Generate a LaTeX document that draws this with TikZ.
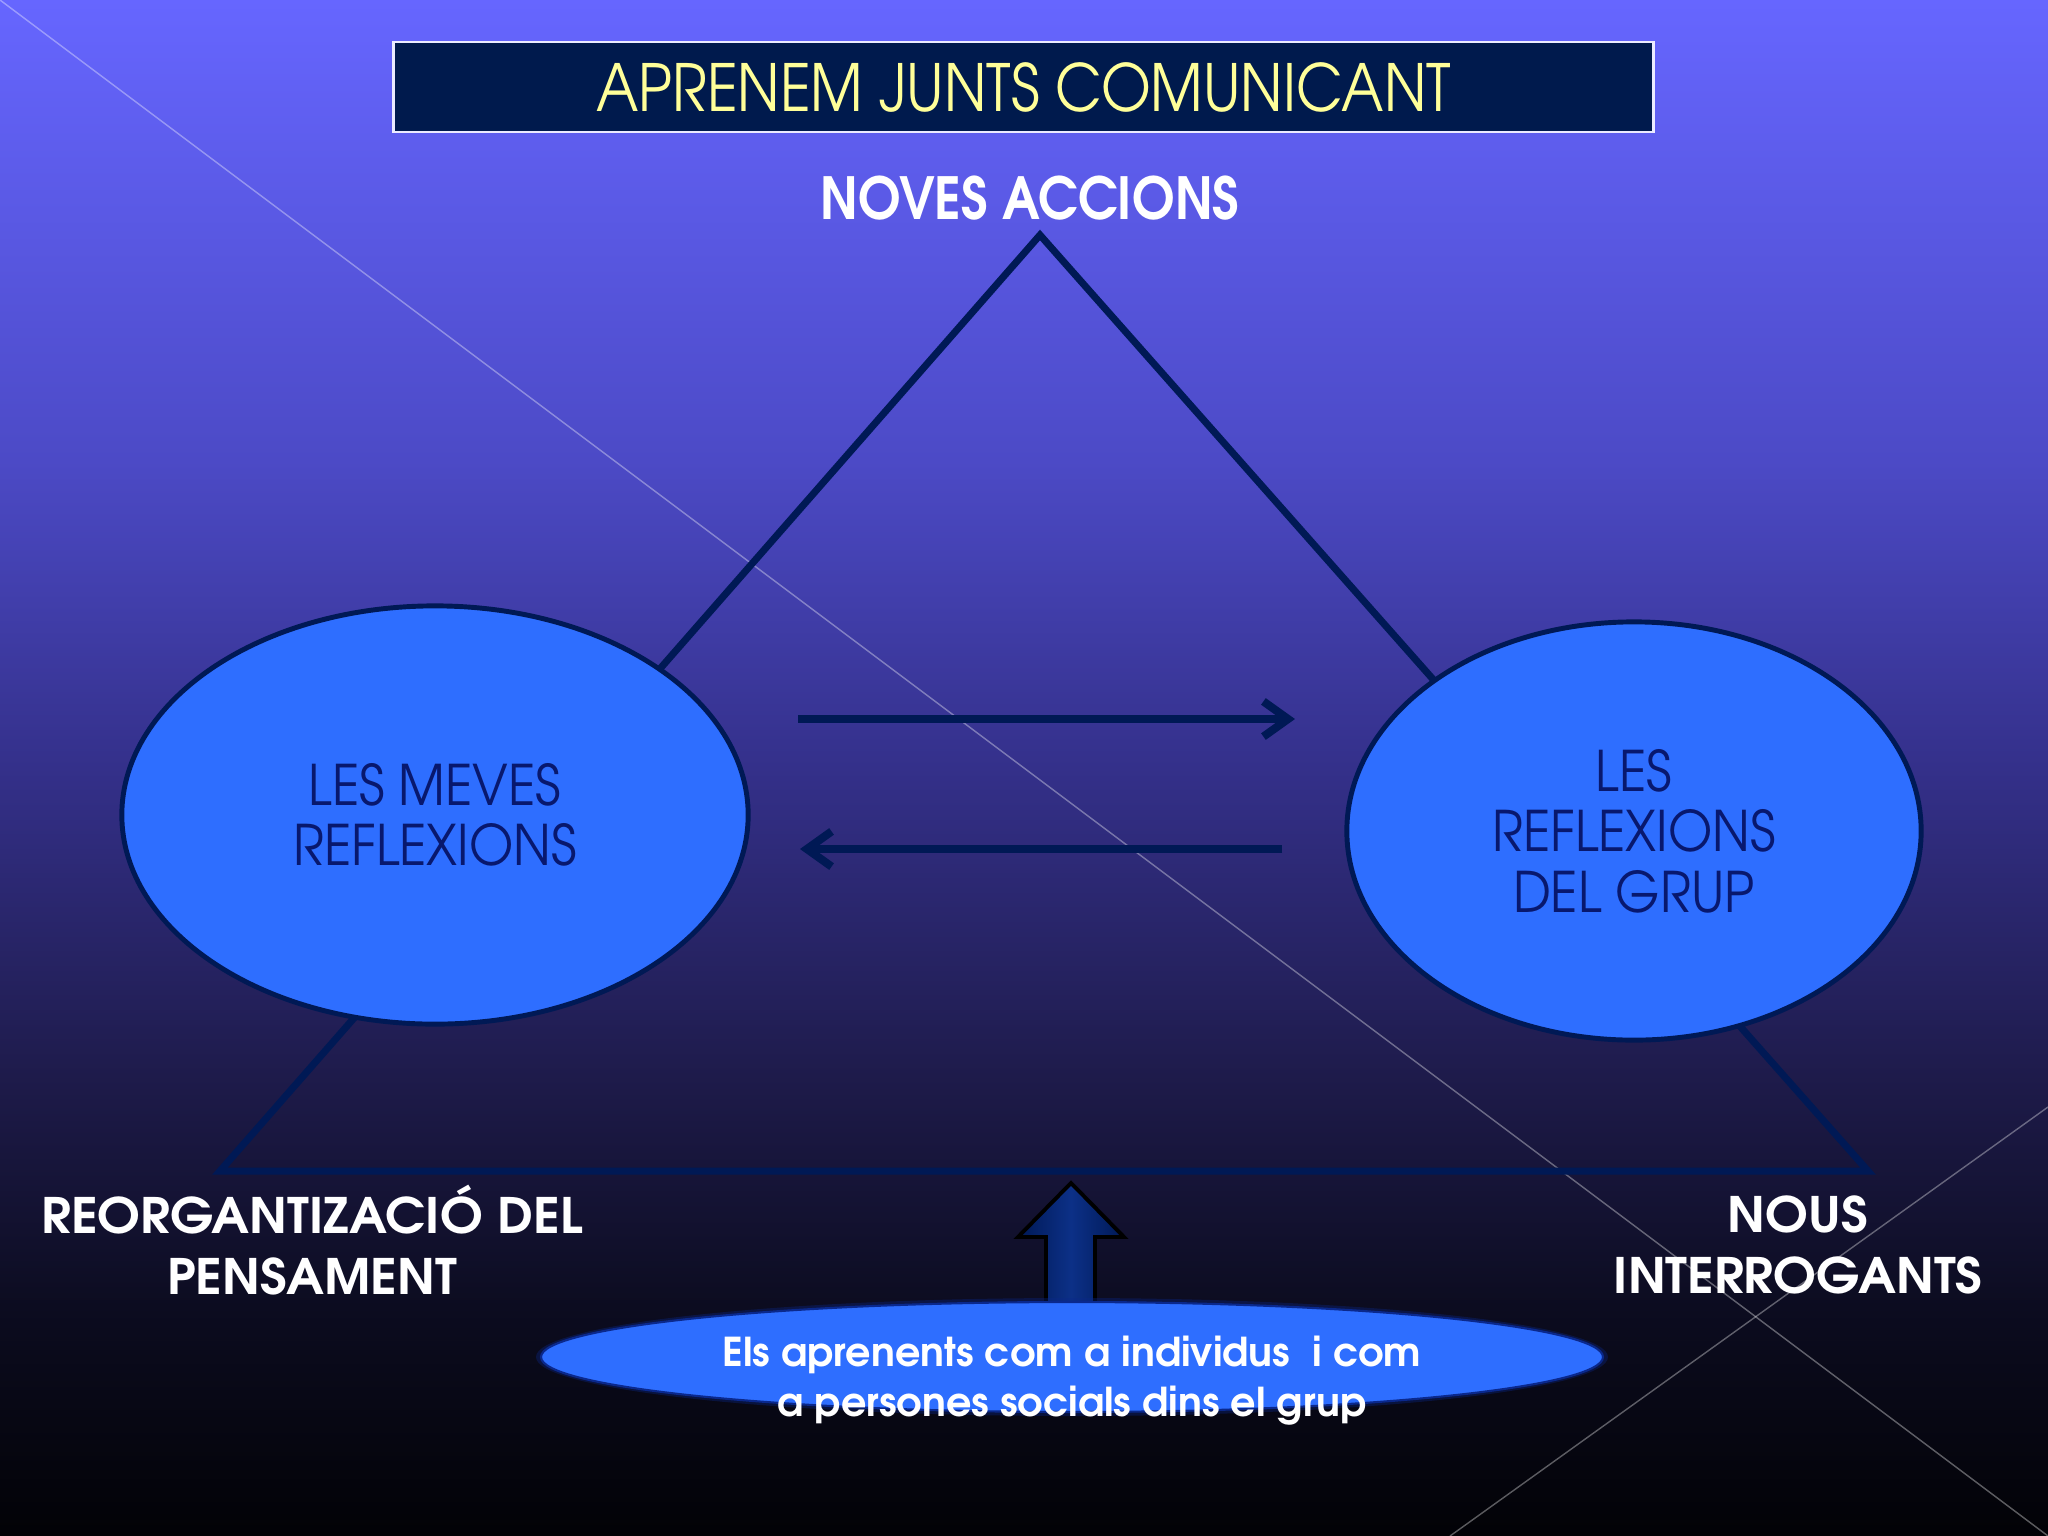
\documentclass[tikz,border=0pt]{standalone}
\usepackage{fontspec}
\newfontfamily\gtitle[FakeStretch=0.88]{TeX Gyre Adventor}
\newfontfamily\gell[FakeStretch=0.91]{TeX Gyre Adventor}
\newfontfamily\glabel[FakeStretch=1.05]{TeX Gyre Adventor}
\newfontfamily\gbase[FakeStretch=1.0]{TeX Gyre Adventor}
\usetikzlibrary{arrows.meta,shapes.geometric}

\definecolor{c0}{RGB}{2,2,6}
\definecolor{c1}{RGB}{12,12,32}
\definecolor{c2}{RGB}{30,27,75}
\definecolor{c3}{RGB}{52,48,138}
\definecolor{c4}{RGB}{76,74,198}
\definecolor{c5}{RGB}{102,102,255}
\definecolor{navy}{RGB}{0,25,85}
\definecolor{titlefill}{RGB}{0,26,77}
\definecolor{titletext}{RGB}{255,255,153}
\definecolor{ellblue}{RGB}{46,110,255}
\definecolor{elltext}{RGB}{8,24,110}
\definecolor{arrmid}{RGB}{12,48,135}
\definecolor{glow}{RGB}{10,40,140}

% TikZ maps a path onto the band 25bp..75bp of a declared shading
\pgfdeclareverticalshading{bgshade}{100bp}{color(0bp)=(c0); color(25bp)=(c0); color(32.5bp)=(c1); color(40bp)=(c2); color(50bp)=(c3); color(60bp)=(c4); color(75bp)=(c5); color(100bp)=(c5)}

\tikzset{
  thinline/.style={draw=white, opacity=0.35, line width=0.4pt},
  tri/.style={draw=navy, line width=2pt, line join=miter},
  bigell/.style={ellipse, fill=ellblue, draw=navy, line width=1.4pt, inner sep=0pt,
    align=center, text=elltext, font=\gell\fontsize{15.9}{17.2}\selectfont},
  flow/.style={draw=navy, line width=2.3pt, -{Straight Barb[length=7pt,width=10pt]}},
  label/.style={align=center, text=white, font=\glabel\bfseries\fontsize{13.9}{17.3}\selectfont},
}

\begin{document}
\begin{tikzpicture}[x=0.01cm,y=-0.01cm]
\useasboundingbox (0,0) rectangle (2048,1536);
\shade[shading=bgshade] (0,0) rectangle (2048,1536);

% thin decorative diagonals
\coordinate (d1a) at (0,0);
\coordinate (d1b) at (2048,1536);
\coordinate (d2a) at (1450,1536);
\coordinate (d2b) at (2048,1107);
\draw[thinline] (d1a) -- (d1b);
\draw[thinline] (d2a) -- (d2b);

% title
\node[draw=white!92!blue, line width=0.8pt, fill=titlefill, minimum width=125.9mm,
      minimum height=9mm, inner sep=0pt, text=titletext,
      font=\gtitle\fontsize{18.5}{20}\selectfont] (title) at (1023.5,87) {APRENEM JUNTS COMUNICANT};

\node[label, font=\gtitle\bfseries\fontsize{16.5}{19}\selectfont] (noves) at (1030,198) {NOVES ACCIONS};

% triangle
\coordinate (apex) at (1040,235);
\coordinate (bl) at (220,1171);
\coordinate (br) at (1868,1171);
\draw[tri] (apex) -- (br) -- (bl) -- cycle;

% ellipses
\node[bigell, minimum width=62.6mm, minimum height=41.8mm] (meves) at (435,815) {LES MEVES\\REFLEXIONS};
\node[bigell, minimum width=57.4mm, minimum height=41.8mm] (grup) at (1634,831) {LES\\REFLEXIONS\\DEL GRUP};

% arrows between the ellipses
\coordinate (a1s) at (798,719);
\coordinate (a1e) at (1295,719);
\coordinate (a2s) at (1282,849);
\coordinate (a2e) at (800,849);
\draw[flow] (a1s) -- (a1e);
\draw[flow] (a2s) -- (a2e);

% block arrow
\draw[draw=black, line width=1.1pt, left color=navy, right color=navy, middle color=arrmid, line join=miter]
  (1071,1183) -- (1124,1237) -- (1095,1237) -- (1095,1315) -- (1046,1315) -- (1046,1237) -- (1018,1237) -- cycle;

% bottom ellipse with soft dark edge
\fill[glow, opacity=0.35] (1072,1357) ellipse [x radius=536, y radius=59];
\fill[ellblue, draw=glow, line width=0.6pt] (1072,1357) ellipse [x radius=531, y radius=55];
\node[label, font=\gbase\bfseries\fontsize{11.3}{14.2}\selectfont] (base) at (1072,1381)
  {Els aprenents com a individus\ \ i com\\a persones socials dins el grup};

% corner labels
\node[label] (reorg) at (312,1240) {REORGANTIZACIÓ DEL\\PENSAMENT};
\node[label] (nous) at (1798,1245) {NOUS\\INTERROGANTS};
\end{tikzpicture}
\end{document}
